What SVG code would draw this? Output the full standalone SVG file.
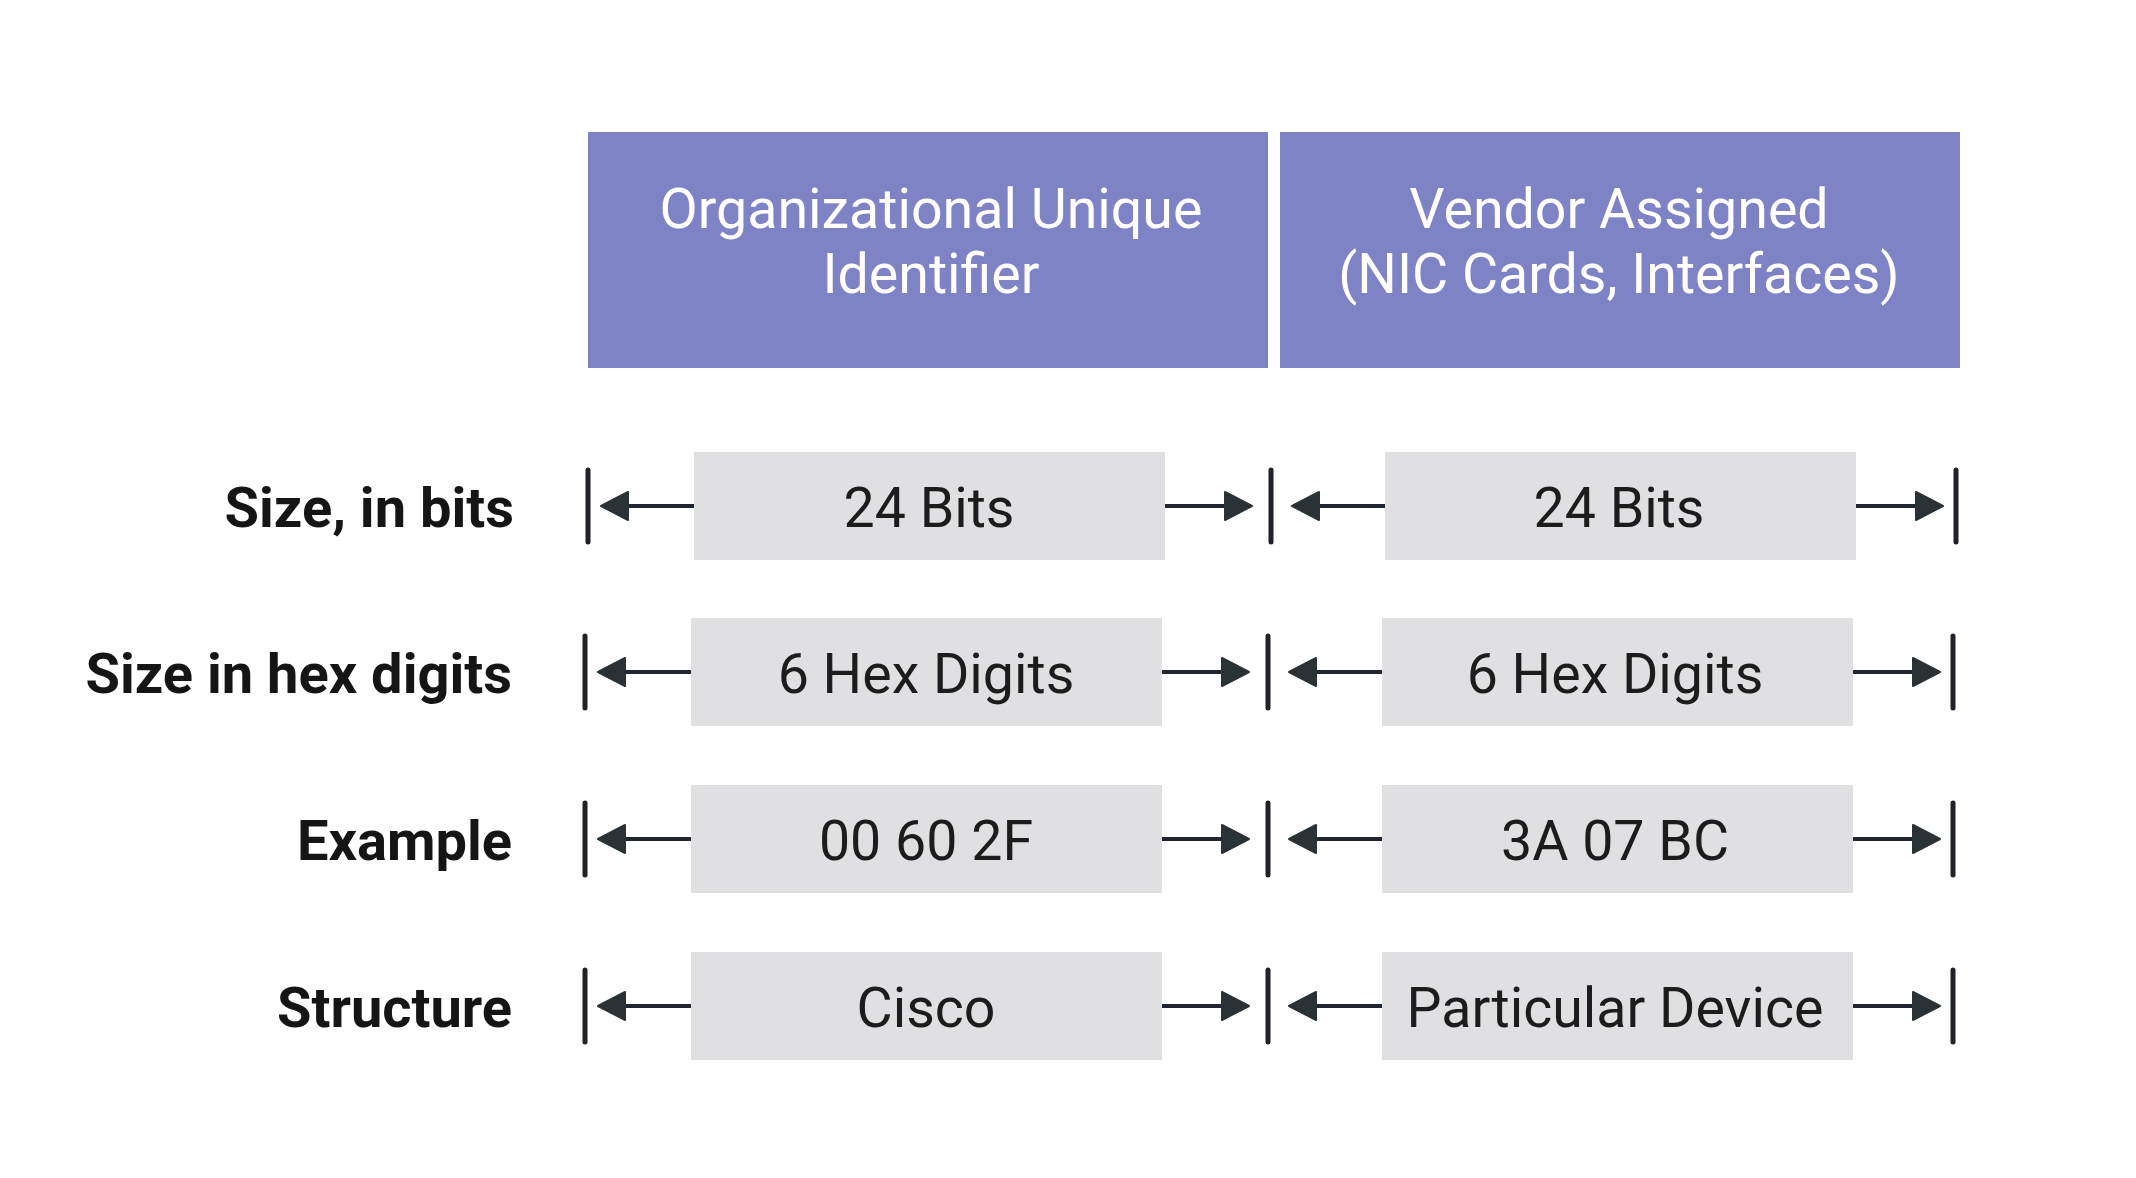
<svg xmlns="http://www.w3.org/2000/svg" width="2136" height="1178" viewBox="0 0 2136 1178">
<style>
.hdr{fill:#7d83c5}
.hdrt{font-family:Roboto,"Liberation Sans",sans-serif;font-size:55.5px;fill:#ffffff;text-anchor:middle}
.val{fill:#e0e0e2}
.valt{font-family:Roboto,"Liberation Sans",sans-serif;font-size:55.5px;fill:#1c1c1c;text-anchor:middle}
.lbl{font-family:Roboto,"Liberation Sans",sans-serif;font-size:56px;font-weight:bold;fill:#151515;text-anchor:end}
.tick{stroke:#1f2327;stroke-width:5;stroke-linecap:round}
.shaft{stroke:#1f2630;stroke-width:4}
.head{fill:#2b3236;stroke:#2b3236;stroke-width:2;stroke-linejoin:round}
</style>
<rect width="2136" height="1178" fill="#ffffff"/>
<g id="header-oui">
<rect class="hdr" x="588" y="132" width="680" height="236"/>
<text class="hdrt" x="931" y="228">Organizational Unique</text>
<text class="hdrt" x="931" y="293">Identifier</text>
</g>
<g id="header-vendor">
<rect class="hdr" x="1280" y="132" width="680" height="236"/>
<text class="hdrt" x="1619" y="228">Vendor Assigned</text>
<text class="hdrt" x="1619" y="293">(NIC Cards, Interfaces)</text>
</g>
<g id="label-size-bits"><text class="lbl" x="514" y="527">Size, in bits</text></g>
<g id="label-size-hex"><text class="lbl" x="512" y="693">Size in hex digits</text></g>
<g id="label-example"><text class="lbl" x="512" y="860">Example</text></g>
<g id="label-structure"><text class="lbl" x="512" y="1027">Structure</text></g>
<g id="oui-bits"><rect class="val" x="694" y="452" width="471" height="108"/><text class="valt" x="929" y="527">24 Bits</text></g>
<g id="vendor-bits"><rect class="val" x="1385" y="452" width="471" height="108"/><text class="valt" x="1619" y="527">24 Bits</text></g>
<g id="oui-hex"><rect class="val" x="691" y="618" width="471" height="108"/><text class="valt" x="926" y="693">6 Hex Digits</text></g>
<g id="vendor-hex"><rect class="val" x="1382" y="618" width="471" height="108"/><text class="valt" x="1615" y="693">6 Hex Digits</text></g>
<g id="oui-example"><rect class="val" x="691" y="785" width="471" height="108"/><text class="valt" x="926" y="860">00 60 2F</text></g>
<g id="vendor-example"><rect class="val" x="1382" y="785" width="471" height="108"/><text class="valt" x="1615" y="860">3A 07 BC</text></g>
<g id="oui-structure"><rect class="val" x="691" y="952" width="471" height="108"/><text class="valt" x="926" y="1027">Cisco</text></g>
<g id="vendor-structure"><rect class="val" x="1382" y="952" width="471" height="108"/><text class="valt" x="1615" y="1027">Particular Device</text></g>
<g id="connectors">
<line class="tick" x1="588" y1="470" x2="588" y2="542"/>
<line class="tick" x1="1271" y1="470" x2="1271" y2="542"/>
<line class="tick" x1="1956" y1="470" x2="1956" y2="542"/>
<line class="shaft" x1="626" y1="506" x2="694" y2="506"/><polygon class="head" points="601,506 628,492 628,520"/>
<line class="shaft" x1="1165" y1="506" x2="1227" y2="506"/><polygon class="head" points="1252,506 1225,492 1225,520"/>
<line class="shaft" x1="1317" y1="506" x2="1385" y2="506"/><polygon class="head" points="1292,506 1319,492 1319,520"/>
<line class="shaft" x1="1856" y1="506" x2="1918" y2="506"/><polygon class="head" points="1943,506 1916,492 1916,520"/>
<line class="tick" x1="585" y1="636" x2="585" y2="708"/>
<line class="tick" x1="1268" y1="636" x2="1268" y2="708"/>
<line class="tick" x1="1953" y1="636" x2="1953" y2="708"/>
<line class="shaft" x1="623" y1="672" x2="691" y2="672"/><polygon class="head" points="598,672 625,658 625,686"/>
<line class="shaft" x1="1162" y1="672" x2="1224" y2="672"/><polygon class="head" points="1249,672 1222,658 1222,686"/>
<line class="shaft" x1="1314" y1="672" x2="1382" y2="672"/><polygon class="head" points="1289,672 1316,658 1316,686"/>
<line class="shaft" x1="1853" y1="672" x2="1915" y2="672"/><polygon class="head" points="1940,672 1913,658 1913,686"/>
<line class="tick" x1="585" y1="803" x2="585" y2="875"/>
<line class="tick" x1="1268" y1="803" x2="1268" y2="875"/>
<line class="tick" x1="1953" y1="803" x2="1953" y2="875"/>
<line class="shaft" x1="623" y1="839" x2="691" y2="839"/><polygon class="head" points="598,839 625,825 625,853"/>
<line class="shaft" x1="1162" y1="839" x2="1224" y2="839"/><polygon class="head" points="1249,839 1222,825 1222,853"/>
<line class="shaft" x1="1314" y1="839" x2="1382" y2="839"/><polygon class="head" points="1289,839 1316,825 1316,853"/>
<line class="shaft" x1="1853" y1="839" x2="1915" y2="839"/><polygon class="head" points="1940,839 1913,825 1913,853"/>
<line class="tick" x1="585" y1="970" x2="585" y2="1042"/>
<line class="tick" x1="1268" y1="970" x2="1268" y2="1042"/>
<line class="tick" x1="1953" y1="970" x2="1953" y2="1042"/>
<line class="shaft" x1="623" y1="1006" x2="691" y2="1006"/><polygon class="head" points="598,1006 625,992 625,1020"/>
<line class="shaft" x1="1162" y1="1006" x2="1224" y2="1006"/><polygon class="head" points="1249,1006 1222,992 1222,1020"/>
<line class="shaft" x1="1314" y1="1006" x2="1382" y2="1006"/><polygon class="head" points="1289,1006 1316,992 1316,1020"/>
<line class="shaft" x1="1853" y1="1006" x2="1915" y2="1006"/><polygon class="head" points="1940,1006 1913,992 1913,1020"/>
</g>
</svg>
